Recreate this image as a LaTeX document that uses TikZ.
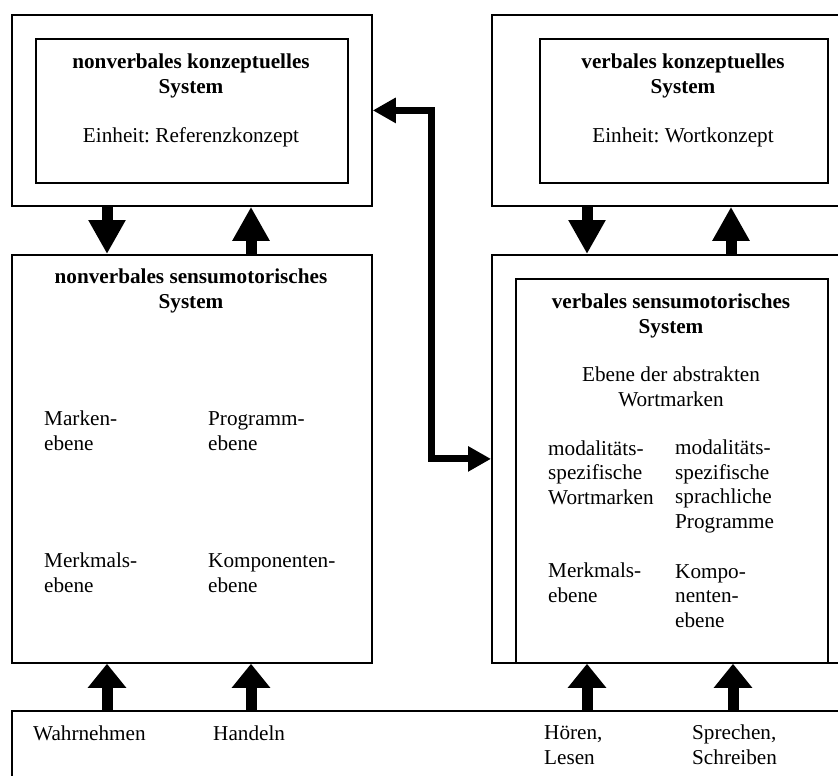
\documentclass[tikz,border=0pt]{standalone}
\usepackage{fontspec}
\setmainfont{Liberation Serif}
\usepackage{tikz}
\usetikzlibrary{arrows.meta}
\frenchspacing

\begin{document}
\begin{tikzpicture}[x=1pt, y=-1pt, font=\fontsize{21.2}{24.4}\selectfont,
                    boxnode/.style={rectangle, draw=black, line width=1.8pt, anchor=north west, inner sep=0pt},
                    titlenode/.style={align=center, anchor=base, inner sep=0pt, font=\fontsize{21.2}{24.4}\selectfont\bfseries},
                    textnode/.style={align=center, anchor=base, inner sep=0pt},
                    leftnode/.style={align=left, anchor=base west, inner sep=0pt},
                    bigarrow/.style={line width=11pt, -{Triangle[length=34pt, width=35pt]}},
                    lowarrow/.style={line width=11pt, -{Triangle[length=24pt, width=37pt]}},
                    linkarrow/.style={line width=7pt, line join=miter, {Triangle[length=23pt, width=24pt]}-{Triangle[length=23pt, width=24pt]}}]
                    \path[use as bounding box, clip] (0,0) rectangle (838,776);
                    \node[boxnode, minimum width=360pt, minimum height=191pt] (nk-outer) at (11,14) {};
                    \node[boxnode, minimum width=312pt, minimum height=144pt] (nk-inner) at (35,38) {};
                    \node[boxnode, minimum width=360pt, minimum height=191pt] (vk-outer) at (491,14) {};
                    \node[boxnode, minimum width=288pt, minimum height=144pt] (vk-inner) at (539,38) {};
                    \node[boxnode, minimum width=360pt, minimum height=408pt] (ns-box) at (11,254) {};
                    \node[boxnode, minimum width=360pt, minimum height=408pt] (vs-outer) at (491,254) {};
                    \node[boxnode, minimum width=312pt, minimum height=384pt] (vs-inner) at (515,278) {};
                    \node[boxnode, minimum width=840pt, minimum height=90pt] (in-box) at (11,710) {};

                    \node[titlenode] (nk-title) at (191,93) {nonverbales konzeptuelles\\System};
                    \node[textnode] (nk-unit) at (191,142) {Einheit: Referenzkonzept};
                    \node[titlenode] (vk-title) at (683,93) {verbales konzeptuelles\\System};
                    \node[textnode] (vk-unit) at (683,142) {Einheit: Wortkonzept};

                    \node[titlenode] (ns-title) at (191,308) {nonverbales sensumotorisches\\System};
                    \node[leftnode] (ns-marken) at (44,450) {Marken-\\ebene};
                    \node[leftnode] (ns-programm) at (208,450) {Programm-\\ebene};
                    \node[leftnode] (ns-merkmal) at (44,592) {Merkmals-\\ebene};
                    \node[leftnode] (ns-komp) at (208,592) {Komponenten-\\ebene};

                    \node[titlenode] (vs-title) at (671,333) {verbales sensumotorisches\\System};
                    \node[textnode] (vs-abstrakt) at (671,406) {Ebene der abstrakten\\Wortmarken};
                    \node[leftnode] (vs-modwort) at (548,504) {modalitäts-\\spezifische\\Wortmarken};
                    \node[leftnode] (vs-modprog) at (675,528) {modalitäts-\\spezifische\\sprachliche\\Programme};
                    \node[leftnode] (vs-merkmal) at (548,602) {Merkmals-\\ebene};
                    \node[leftnode] (vs-komp) at (675,627) {Kompo-\\nenten-\\ebene};

                    \node[leftnode] (in-wahr) at (33,740) {Wahrnehmen};
                    \node[leftnode] (in-handeln) at (213,740) {Handeln};
                    \node[leftnode] (in-hoeren) at (544,764) {Hören,\\Lesen};
                    \node[leftnode] (in-sprechen) at (692,764) {Sprechen,\\Schreiben};

                    \coordinate (bend) at (431,0);

                    \draw[bigarrow] ([xshift=96pt]nk-outer.south west) -- ([xshift=96pt]ns-box.north west);
                    \draw[bigarrow] ([xshift=240pt]ns-box.north west) -- ([xshift=240pt]nk-outer.south west);
                    \draw[bigarrow] ([xshift=96pt]vk-outer.south west) -- ([xshift=96pt]vs-outer.north west);
                    \draw[bigarrow] ([xshift=240pt]vs-outer.north west) -- ([xshift=240pt]vk-outer.south west);
                    \draw[lowarrow] ([xshift=96pt]in-box.north west) -- ([xshift=96pt]ns-box.south west);
                    \draw[lowarrow] ([xshift=240pt]in-box.north west) -- ([xshift=240pt]ns-box.south west);
                    \draw[lowarrow] ([xshift=576pt]in-box.north west) -- ([xshift=96pt]vs-outer.south west);
                    \draw[lowarrow] ([xshift=722pt]in-box.north west) -- ([xshift=242pt]vs-outer.south west);
                    \draw[linkarrow] (nk-outer.east) -| (bend |- vs-outer.west) -- (vs-outer.west);
                    \end{tikzpicture}
\end{document}
